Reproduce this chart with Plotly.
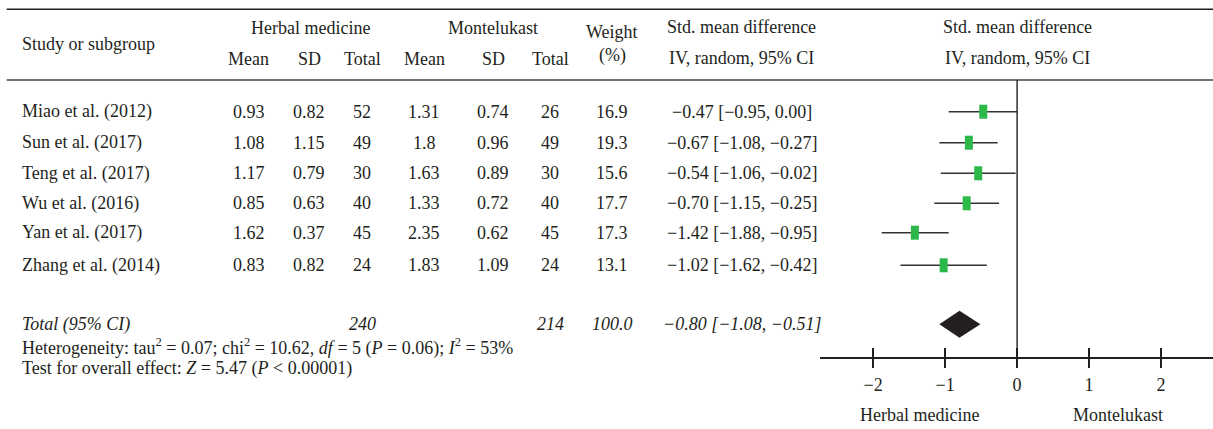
import plotly.graph_objects as go

# ---------------- data ----------------
studies = ["Miao et al. (2012)", "Sun et al. (2017)", "Teng et al. (2017)",
           "Wu et al. (2016)", "Yan et al. (2017)", "Zhang et al. (2014)"]
hm_mean = [0.93, 1.08, 1.17, 0.85, 1.62, 0.83]
hm_sd = [0.82, 1.15, 0.79, 0.63, 0.37, 0.82]
hm_total = [52, 49, 30, 40, 45, 24]
mk_mean = [1.31, 1.8, 1.63, 1.33, 2.35, 1.83]
mk_sd = [0.74, 0.96, 0.89, 0.72, 0.62, 1.09]
mk_total = [26, 49, 30, 40, 45, 24]
weights = [16.9, 19.3, 15.6, 17.7, 17.3, 13.1]
smd = [-0.47, -0.67, -0.54, -0.70, -1.42, -1.02]
ci_lo = [-0.95, -1.08, -1.06, -1.15, -1.88, -1.62]
ci_hi = [0.00, -0.27, -0.02, -0.25, -0.95, -0.42]

total_hm = 240
total_mk = 214
total_weight = 100.0
total_smd = -0.80
total_lo = -1.08
total_hi = -0.51

tick_vals = [-2, -1, 0, 1, 2]

# ---------------- layout helpers ----------------
W, H = 1213, 429
FONT = "Liberation Serif"
FS = 18
TXT = "#231f20"

row_y = [111.7, 142.7, 173.3, 203.3, 232.7, 265.3]
total_y = 324.3
het_y = 347.3
test_y = 368.0
axis_y = 357.3

x_left = 20
col_hm_mean, col_hm_sd, col_hm_tot = 248.5, 309.3, 362.3
col_mk_mean, col_mk_sd, col_mk_tot = 424, 493, 550
col_w = 612.3
col_ci = 741.5

zero_px = 1017.1
unit_px = 72.0
ax_left_px = 820
x_range = [(ax_left_px - zero_px) / unit_px, (W - zero_px) / unit_px]


def m(v):
    s = f"{v:.2f}"
    return s.replace("-", "\u2212")


def fmt_num(v):
    return str(v).replace("-", "\u2212")


def ci_text(e, lo, hi):
    return f"{m(e)} [{m(lo)}, {m(hi)}]"


annotations = []


def add_text(px, py, text, anchor="center", italic=False, size=FS):
    if italic:
        text = f"<i>{text}</i>"
    annotations.append(dict(
        x=px / W, xref="paper", y=py, yref="y", text=text, showarrow=False,
        xanchor=anchor, yanchor="middle",
        font=dict(family=FONT, size=size, color=TXT)))


# header
add_text(x_left, 44, "Study or subgroup", "left")
add_text(310, 28.3, "Herbal medicine")
add_text(493, 28.3, "Montelukast")
for cx, t in [(col_hm_mean, "Mean"), (col_hm_sd, "SD"), (col_hm_tot, "Total"),
              (col_mk_mean, "Mean"), (col_mk_sd, "SD"), (col_mk_tot, "Total")]:
    add_text(cx, 59.3, t)
add_text(col_w, 32.3, "Weight")
add_text(col_w, 55, "(%)")
add_text(col_ci, 27.3, "Std. mean difference")
add_text(col_ci, 58.3, "IV, random, 95% CI")
add_text(zero_px, 27.3, "Std. mean difference")
add_text(zero_px, 58.3, "IV, random, 95% CI")

# rows
for i, s in enumerate(studies):
    y = row_y[i]
    add_text(x_left, y, s, "left")
    add_text(col_hm_mean, y, fmt_num(hm_mean[i]))
    add_text(col_hm_sd, y, fmt_num(hm_sd[i]))
    add_text(col_hm_tot, y, str(hm_total[i]))
    add_text(col_mk_mean, y, fmt_num(mk_mean[i]))
    add_text(col_mk_sd, y, fmt_num(mk_sd[i]))
    add_text(col_mk_tot, y, str(mk_total[i]))
    add_text(col_w, y, f"{weights[i]:.1f}")
    add_text(col_ci, y, ci_text(smd[i], ci_lo[i], ci_hi[i]))

# total
add_text(x_left, total_y, "Total (95% CI)", "left", italic=True)
add_text(col_hm_tot, total_y, str(total_hm), italic=True)
add_text(col_mk_tot, total_y, str(total_mk), italic=True)
add_text(col_w, total_y, f"{total_weight:.1f}", italic=True)
add_text(col_ci, total_y, ci_text(total_smd, total_lo, total_hi), italic=True)

add_text(x_left, het_y,
         "Heterogeneity: tau<sup>2</sup> = 0.07; chi<sup>2</sup> = 10.62, "
         "<i>df</i> = 5 (<i>P</i> = 0.06); <i>I</i><sup>2</sup> = 53%", "left")
add_text(x_left, test_y,
         "Test for overall effect: <i>Z</i> = 5.47 (<i>P</i> &lt; 0.00001)", "left")

add_text(919, 415, "Herbal medicine")
add_text(1117.5, 415, "Montelukast")

# ---------------- figure ----------------
fig = go.Figure()

# summary diamond
half_h = 13.5
fig.add_trace(go.Scatter(
    x=[total_lo, total_smd, total_hi, total_smd, total_lo],
    y=[total_y, total_y - half_h, total_y, total_y + half_h, total_y],
    mode="lines", fill="toself", fillcolor="#231f20",
    line=dict(width=0, color="#231f20"), hoverinfo="skip", showlegend=False))

# study estimates with CIs
fig.add_trace(go.Scatter(
    x=smd, y=row_y, mode="markers",
    marker=dict(symbol="line-ns", size=10, color="#2db84a",
                line=dict(width=8, color="#2db84a")),
    error_x=dict(type="data", symmetric=False,
                 array=[h - e for h, e in zip(ci_hi, smd)],
                 arrayminus=[e - l for e, l in zip(smd, ci_lo)],
                 width=0, thickness=1.4, color="#333333"),
    showlegend=False, hoverinfo="skip"))

# invisible trace on the overlay axis so it gets drawn
fig.add_trace(go.Scatter(x=[0], y=[axis_y], xaxis="x2", mode="markers",
                         marker=dict(opacity=0), showlegend=False,
                         hoverinfo="skip"))

shapes = [
    dict(type="line", xref="paper", yref="y", x0=6.7 / W, x1=1, y0=9.3, y1=9.3,
         line=dict(color="#231f20", width=1.5)),
    dict(type="line", xref="paper", yref="y", x0=6.7 / W, x1=1, y0=80, y1=80,
         line=dict(color="#444444", width=1.6)),
    dict(type="line", xref="x", yref="y", x0=0, x1=0, y0=80, y1=axis_y,
         line=dict(color="#231f20", width=1.4)),
]

axpos = 1 - axis_y / H
dom = [ax_left_px / W, 1]
fig.update_layout(
    width=W, height=H, margin=dict(l=0, r=0, t=0, b=0),
    paper_bgcolor="white", plot_bgcolor="white",
    xaxis=dict(domain=dom, range=x_range, anchor="free", position=axpos,
               tickvals=tick_vals, ticks="outside", ticklen=9, tickwidth=1.4,
               tickcolor="#231f20", showline=True, linecolor="#231f20",
               linewidth=1.4, showgrid=False, zeroline=False,
               tickfont=dict(family=FONT, size=FS, color=TXT),
               ticklabelstandoff=2),
    xaxis2=dict(domain=dom, range=x_range, overlaying="x", anchor="free",
                position=axpos, tickvals=tick_vals, ticks="inside", ticklen=9,
                tickwidth=1.4, tickcolor="#231f20", showticklabels=False,
                showline=False, showgrid=False, zeroline=False),
    yaxis=dict(domain=[0, 1], range=[H, 0], visible=False),
    shapes=shapes, annotations=annotations,
)

fig.write_html(
    "out.html",
    config={"displayModeBar": False, "staticPlot": True},
    post_script="document.body.style.margin='0px';"
                "document.body.style.overflow='hidden';")
